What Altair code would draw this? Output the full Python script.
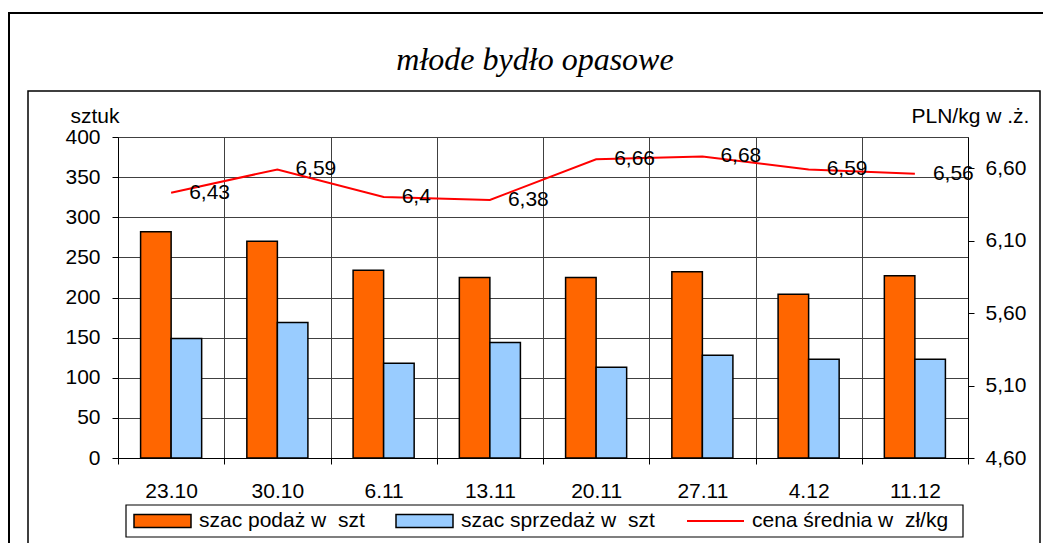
import altair as alt
import pandas as pd

# ---- data ----
daty = ["23.10", "30.10", "6.11", "13.11", "20.11", "27.11", "4.12", "11.12"]
podaz = [282, 270, 234, 225, 225, 232, 204, 227]
sprzedaz = [149, 169, 118, 144, 113, 128, 123, 123]
cena = [6.43, 6.59, 6.4, 6.38, 6.66, 6.68, 6.59, 6.56]

tytul = "młode bydło opasowe"
s1 = "szac podaż w\u00a0 szt"
s2 = "szac sprzedaż w\u00a0 szt"
s3 = "cena średnia w\u00a0 zł/kg"
kolory_slupkow = ["#FF6600", "#99CCFF"]
kolor_linii = "#FF0000"
lewe_ticki = [0, 50, 100, 150, 200, 250, 300, 350, 400]
prawe_ticki = [4.6, 5.1, 5.6, 6.1, 6.6]
os_lewa = "sztuk"
os_prawa = "PLN/kg w .ż."

W, H = 850, 321
FONT = "Liberation Sans"

bars_df = pd.DataFrame(
    [{"data": d, "seria": s1, "wartosc": v} for d, v in zip(daty, podaz)]
    + [{"data": d, "seria": s2, "wartosc": v} for d, v in zip(daty, sprzedaz)]
)
line_df = pd.DataFrame({"data": daty, "cena": cena, "seria": [s3] * len(daty)})
one = pd.DataFrame({"t": [tytul]})

x_enc = alt.X(
    "data:N",
    sort=daty,
    scale=alt.Scale(paddingInner=0, paddingOuter=0),
    axis=alt.Axis(
        title=None, tickBand="extent", grid=True, gridColor="#404040",
        tickSize=6, tickColor="black", domainColor="black",
        labelFontSize=21, labelFont=FONT, labelColor="black", labelPadding=16,
        labelAngle=0,
    ),
)

common_legend = dict(
    title=None, orient="none", direction="horizontal", padding=5,
    symbolSize=3249, clipHeight=22, symbolOffset=2, labelFontSize=21,
    labelFont=FONT, labelColor="black", labelOffset=7, labelLimit=400,
)

bars = alt.Chart(bars_df).mark_bar(stroke="black", strokeWidth=1.5).encode(
    x=x_enc,
    xOffset=alt.XOffset("seria:N", sort=[s1, s2],
                        scale=alt.Scale(paddingInner=0, paddingOuter=0.74)),
    y=alt.Y(
        "wartosc:Q",
        scale=alt.Scale(domain=[0, 400], nice=False),
        axis=alt.Axis(
            values=lewe_ticki, grid=True, gridColor="#404040", tickSize=6,
            tickColor="black", domainColor="black", labelFontSize=21,
            labelFont=FONT, labelColor="black", labelPadding=12,
            title=os_lewa, titleAngle=0, titleX=-48, titleY=-21,
            titleAlign="left", titleBaseline="middle", titleFontSize=21,
            titleFont=FONT, titleFontWeight="normal", titleColor="black",
        ),
    ),
    fill=alt.Fill(
        "seria:N",
        scale=alt.Scale(domain=[s1, s2], range=kolory_slupkow),
        legend=alt.Legend(
            legendX=8, legendY=368, columnPadding=28,
            symbolType="M-1,-0.23H1V0.23H-1Z", symbolStrokeWidth=1.5,
            symbolStrokeColor="black", **common_legend,
        ),
    ),
)

y_right = alt.Y(
    "cena:Q",
    scale=alt.Scale(domain=[4.6, 4.6 + H / 145.0], nice=False, zero=False),
    axis=alt.Axis(
        orient="right", values=prawe_ticki, grid=False, tickSize=6,
        tickColor="black", domainColor="black", labelFontSize=21,
        labelFont=FONT, labelColor="black", labelPadding=11,
        labelExpr="replace(format(datum.value, '.2f'), '.', ',')",
        title=os_prawa, titleAngle=0, titleX=-57, titleY=-21,
        titleAlign="left", titleBaseline="middle", titleFontSize=21,
        titleFont=FONT, titleFontWeight="normal", titleColor="black",
    ),
)

line = alt.Chart(line_df).mark_line(strokeWidth=2).encode(
    x=alt.X("data:N", sort=daty),
    y=y_right,
    stroke=alt.Stroke(
        "seria:N",
        scale=alt.Scale(domain=[s3], range=[kolor_linii]),
        legend=alt.Legend(
            legendX=561, legendY=368, symbolType="M-1,0H1",
            symbolStrokeWidth=2, **common_legend,
        ),
    ),
)
labels = alt.Chart(line_df).transform_calculate(
    etykieta="replace(toString(datum.cena), '.', ',')"
).mark_text(
    align="left", baseline="middle", dx=18, fontSize=21, font=FONT, color="black"
).encode(x=alt.X("data:N", sort=daty), y=y_right, text="etykieta:N")

line_layer = alt.layer(line, labels)

outer = alt.Chart(one).mark_rect(fillOpacity=0, stroke="black", strokeWidth=2).encode(
    x=alt.value(-109), x2=alt.value(1040), y=alt.value(-124), y2=alt.value(600)
)
inner = alt.Chart(one).mark_rect(fillOpacity=0, stroke="black", strokeWidth=1.5).encode(
    x=alt.value(-90), x2=alt.value(922), y=alt.value(-46), y2=alt.value(600)
)
legend_box = alt.Chart(one).mark_rect(fillOpacity=0, stroke="black", strokeWidth=1.2).encode(
    x=alt.value(8), x2=alt.value(845), y=alt.value(368), y2=alt.value(400)
)
title = alt.Chart(one).mark_text(
    font="Liberation Serif", fontStyle="italic", fontSize=32, color="black",
    align="center", baseline="middle",
).encode(text="t:N", x=alt.value(417), y=alt.value(-77))

chart = alt.layer(outer, inner, legend_box, title, bars, line_layer).resolve_scale(
    y="independent"
).properties(
    width=W, height=H,
    padding={"left": 110, "top": 129, "right": 75, "bottom": 85},
    autosize=alt.AutoSizeParams(type="none"),
    background="white",
).configure_view(stroke="#808080", strokeWidth=1).configure(font=FONT)

chart.save("out.html", embed_options={"renderer": "svg", "actions": False})
